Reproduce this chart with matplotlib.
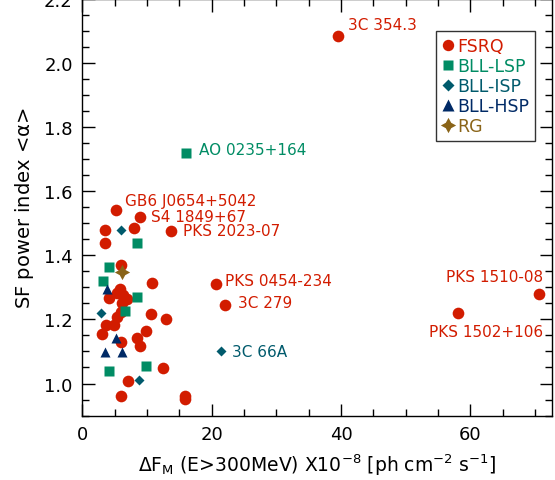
import matplotlib
matplotlib.use("Agg")
import matplotlib.pyplot as plt
from matplotlib.ticker import MultipleLocator
from matplotlib.lines import Line2D

plt.rcParams['font.family'] = ['DejaVu Sans']
plt.rcParams['mathtext.default'] = 'regular'

# ---- data ----
fsrq_x = [39.55, 5.15, 8.9, 3.54, 7.98, 13.7, 3.54, 5.92, 10.8, 5.81, 4.06, 5.3, 6.22, 6.84,
          6.17, 5.92, 5.4, 10.6, 12.97, 3.65, 4.88, 9.88, 2.98, 8.39, 5.92, 8.95, 12.4, 7.05,
          5.97, 15.8, 15.8, 20.65, 22.04, 70.6, 58.0]
fsrq_y = [2.084, 1.542, 1.521, 1.479, 1.484, 1.477, 1.439, 1.370, 1.314, 1.295, 1.266, 1.281,
          1.275, 1.264, 1.252, 1.223, 1.207, 1.217, 1.202, 1.183, 1.183, 1.163, 1.153, 1.141,
          1.128, 1.117, 1.048, 1.009, 0.961, 0.961, 0.951, 1.309, 1.245, 1.278, 1.221]
lsp_x = [16.0, 8.49, 4.06, 3.13, 8.39, 6.53, 9.83, 4.11]
lsp_y = [1.718, 1.440, 1.364, 1.321, 1.271, 1.226, 1.055, 1.038]
isp_x = [5.92, 2.83, 8.7, 21.37]
isp_y = [1.478, 1.219, 1.012, 1.101]
hsp_x = [3.85, 5.24, 3.44, 6.07]
hsp_y = [1.296, 1.141, 1.097, 1.097]
rg_x = [6.17]
rg_y = [1.349]

labels = ["3C 354.3", "AO 0235+164", "GB6 J0654+5042", "S4 1849+67", "PKS 2023-07",
          "PKS 0454-234", "3C 279", "3C 66A", "PKS 1510-08", "PKS 1502+106"]
label_x = [41.0, 18.07, 6.58, 10.6, 15.5, 22.04, 24.0, 23.07, 71.2, 62.4]
label_y = [2.12, 1.731, 1.571, 1.521, 1.477, 1.321, 1.252, 1.101, 1.335, 1.162]
label_cls = ["FSRQ", "BLL-LSP", "FSRQ", "FSRQ", "FSRQ", "FSRQ", "FSRQ", "BLL-ISP", "FSRQ", "FSRQ"]
label_ha = ["left"] * 8 + ["right", "center"]

RED = '#d21c00'
GREEN = '#008c64'
TEAL = '#005a6c'
NAVY = '#002a66'
BROWN = '#8a6418'
cls_col = {"FSRQ": RED, "BLL-LSP": GREEN, "BLL-ISP": TEAL, "BLL-HSP": NAVY, "RG": BROWN}

fig = plt.figure(figsize=(5.55, 4.81), dpi=100)
ax = fig.add_axes([0.1485, 0.134, 0.846, 0.866])

ax.plot(fsrq_x, fsrq_y, 'o', ms=8.4, color=RED, mec='none', ls='none')
ax.plot(lsp_x, lsp_y, 's', ms=6.8, color=GREEN, mec='none', ls='none')
ax.plot(isp_x, isp_y, 'D', ms=5.6, color=TEAL, mec='none', ls='none')
ax.plot(hsp_x, hsp_y, '^', ms=7.5, color=NAVY, mec='none', ls='none')
ax.plot(rg_x, rg_y, marker=(4, 1, 0), ms=11, color=BROWN, mec='none', ls='none')

for t, x, y, c, ha in zip(labels, label_x, label_y, label_cls, label_ha):
    ax.text(x, y, t, color=cls_col[c], fontsize=11, ha=ha, va='center')

ax.set_xlim(0, 72.6)
ax.set_ylim(0.9, 2.2)
ax.xaxis.set_major_locator(MultipleLocator(20))
ax.xaxis.set_minor_locator(MultipleLocator(5))
ax.yaxis.set_major_locator(MultipleLocator(0.2))
ax.yaxis.set_minor_locator(MultipleLocator(0.05))
ax.tick_params(which='both', direction='in', top=True, right=True, width=1, labelsize=13)
ax.tick_params(which='major', length=9, pad=7)
ax.tick_params(which='minor', length=5)
ax.set_yticks([1.0, 1.2, 1.4, 1.6, 1.8, 2.0, 2.2])
ax.set_yticklabels(['1.0', '1.2', '1.4', '1.6', '1.8', '2.0', '2.2'])
for s in ax.spines.values():
    s.set_linewidth(1)

ax.set_xlabel(r'$\Delta$F$_\mathrm{M}$ (E>300MeV) X10$^{-8}$ [ph cm$^{-2}$ s$^{-1}$]', fontsize=13.5, labelpad=6)
ax.set_ylabel(r'SF power index <$\alpha$>', fontsize=14, labelpad=6)

handles = [
    Line2D([], [], marker='o', ls='none', color=RED, mec='none', ms=8.2),
    Line2D([], [], marker='s', ls='none', color=GREEN, mec='none', ms=6.8),
    Line2D([], [], marker='D', ls='none', color=TEAL, mec='none', ms=6.5),
    Line2D([], [], marker='^', ls='none', color=NAVY, mec='none', ms=8),
    Line2D([], [], marker=(4, 1, 0), ls='none', color=BROWN, mec='none', ms=11),
]
names = ["FSRQ", "BLL-LSP", "BLL-ISP", "BLL-HSP", "RG"]
leg = ax.legend(handles, names, loc='upper right', bbox_to_anchor=(0.964, 0.924),
                fontsize=12.5, frameon=True, fancybox=False, handlelength=0.7,
                handletextpad=0.15, labelspacing=0.12, borderpad=0.35, borderaxespad=0)
leg.get_frame().set_edgecolor('black')
leg.get_frame().set_linewidth(1)
for txt, n in zip(leg.get_texts(), names):
    txt.set_color(cls_col[n])

fig.savefig('out.png', dpi=100)
